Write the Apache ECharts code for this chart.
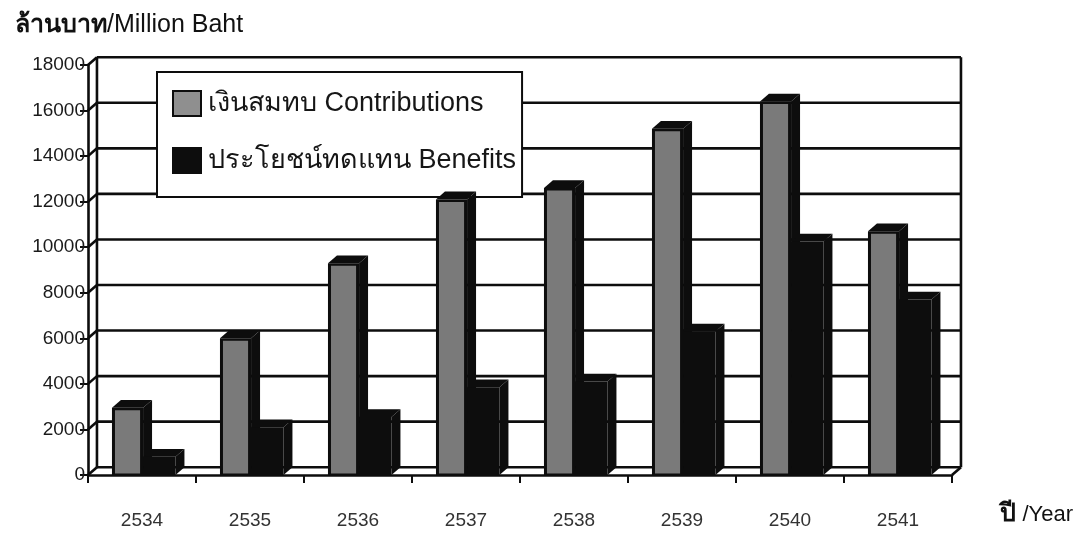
<!DOCTYPE html>
<html>
<head>
<meta charset="utf-8">
<script src="https://cdn.jsdelivr.net/npm/echarts@6/dist/echarts.min.js"></script>
<style>
html,body{margin:0;padding:0;background:#fff;}
#chart{width:1079px;height:535px;}
</style>
</head>
<body>
<div id="chart"></div>
<script>
// ---- data ----
var categories = ['2534', '2535', '2536', '2537', '2538', '2539', '2540', '2541'];
var contributions = [2950, 6000, 9300, 12100, 12600, 15200, 16400, 10700];
var benefits = [800, 2100, 2550, 3850, 4100, 6300, 10250, 7700];
var yTicks = [0, 2000, 4000, 6000, 8000, 10000, 12000, 14000, 16000, 18000];
var seriesNames = ['เงินสมทบ Contributions', 'ประโยชน์ทดแทน Benefits'];
var yTitle = 'ล้านบาท';
var yTitleEn = '/Million Baht';
var xTitle = 'ปี';
var xTitleEn = ' /Year';

var FONT = "'Liberation Sans', Arial, 'Noto Sans', 'DejaVu Sans', sans-serif";
var GRAY = '#7a7a7a';
var INK = '#0d0d0d';

var chart = echarts.init(document.getElementById('chart'), null, {renderer: 'canvas'});

function depth(band) { return {dx: band * 0.083, dy: -band * 0.072}; }

function wallItem(params, api) {
  var cs = params.coordSys;
  var v = api.value(1);
  var p = api.coord([0, v]);
  var band = api.size([1, 0])[0];
  var d = depth(band);
  var left = cs.x, right = cs.x + cs.width;
  var y = p[1];
  var st = {stroke: INK, lineWidth: 2.6};
  var ch = [
    {type: 'line', shape: {x1: left + d.dx, y1: y + d.dy, x2: right + d.dx, y2: y + d.dy}, style: st},
    {type: 'line', shape: {x1: left, y1: y, x2: left + d.dx, y2: y + d.dy}, style: st}
  ];
  if (params.dataIndex === 0) {
    var top = cs.y, bottom = cs.y + cs.height;
    ch.push({type: 'line', shape: {x1: left + d.dx, y1: top + d.dy, x2: left + d.dx, y2: bottom + d.dy}, style: st});
    ch.push({type: 'line', shape: {x1: right + d.dx, y1: top + d.dy, x2: right + d.dx, y2: bottom + d.dy}, style: st});
    ch.push({type: 'line', shape: {x1: right, y1: bottom, x2: right + d.dx, y2: bottom + d.dy}, style: st});
  }
  return {type: 'group', children: ch};
}

function barMaker(f0, f1, gray) {
  return function (params, api) {
    var cat = api.value(0), v = api.value(1);
    var base = api.coord([cat, 0]);
    var top = api.coord([cat, v]);
    var band = api.size([1, 0])[0];
    var d = depth(band);
    var start = base[0] - band / 2;
    var x0 = start + band * f0, x1 = start + band * f1;
    var yt = top[1], yb = base[1];
    var fill = {fill: INK};
    var ch = [
      {type: 'polygon', shape: {points: [[x1, yt], [x1 + d.dx, yt + d.dy], [x1 + d.dx, yb + d.dy], [x1, yb]]}, style: fill},
      {type: 'polygon', shape: {points: [[x0, yt], [x0 + d.dx, yt + d.dy], [x1 + d.dx, yt + d.dy], [x1, yt]]}, style: fill},
      {type: 'rect', shape: {x: x0, y: yt, width: x1 - x0, height: yb - yt}, style: fill}
    ];
    if (gray) {
      ch.push({type: 'rect', shape: {x: x0 + 3, y: yt + 2.5, width: x1 - x0 - 6, height: yb - yt - 4}, style: {fill: GRAY}});
    }
    return {type: 'group', children: ch};
  };
}

var option = {
  backgroundColor: '#fff',
  animation: false,
  textStyle: {fontFamily: FONT},
  grid: {left: 88, right: 127, top: 65, bottom: 60, containLabel: false},
  xAxis: {
    type: 'category',
    data: categories,
    boundaryGap: true,
    axisLine: {lineStyle: {color: INK, width: 2.6}},
    axisTick: {show: true, length: 8, lineStyle: {color: INK, width: 2}},
    axisLabel: {color: '#333', fontSize: 19, margin: 36, fontFamily: FONT},
    splitLine: {show: false}
  },
  yAxis: {
    type: 'value',
    min: 0, max: 18000, interval: 2000,
    axisLine: {show: true, lineStyle: {color: INK, width: 2.6}},
    axisTick: {show: true, length: 8, lineStyle: {color: INK, width: 2}},
    axisLabel: {color: '#1a1a1a', fontSize: 19, margin: 3, fontFamily: FONT,
      formatter: function (v) { return String(v); }},
    splitLine: {show: false}
  },
  legend: {
    show: true,
    orient: 'vertical',
    left: 157, top: 72,
    z: 3,
    backgroundColor: '#fff',
    borderColor: INK, borderWidth: 2,
    padding: [18, 6, 23, 15],
    itemWidth: 28, itemHeight: 25, itemGap: 30,
    textStyle: {fontSize: 27, color: '#161616', fontFamily: FONT, padding: [0, 0, 0, 2]},
    data: [
      {name: seriesNames[0], icon: 'rect', itemStyle: {color: '#8f8f8f', borderColor: INK, borderWidth: 2}},
      {name: seriesNames[1], icon: 'rect', itemStyle: {color: INK, borderColor: INK, borderWidth: 2}}
    ]
  },
  graphic: [
    {type: 'text', left: 15, top: 13, z: 10, style: {
      text: '{b|' + yTitle + '}{r|' + yTitleEn + '}',
      rich: {b: {fontSize: 25, fontWeight: 'bold', fill: '#111', fontFamily: FONT},
             r: {fontSize: 25, fill: '#111', fontFamily: FONT}}
    }},
    {type: 'text', right: 6, top: 502, z: 10, style: {
      text: '{b|' + xTitle + '}{r|' + xTitleEn + '}',
      rich: {b: {fontSize: 25, fontWeight: 'bold', fill: '#111', fontFamily: FONT},
             r: {fontSize: 22, fill: '#111', fontFamily: FONT}}
    }}
  ],
  series: [
    {
      type: 'custom', name: 'wall', z: 1, silent: true,
      renderItem: wallItem,
      data: yTicks.map(function (t) { return [0, t]; }),
      encode: {x: 0, y: 1}
    },
    {
      type: 'custom', name: seriesNames[0], z: 5,
      itemStyle: {color: GRAY},
      renderItem: barMaker(0.222, 0.51, true),
      data: contributions.map(function (v, i) { return [i, v]; }),
      encode: {x: 0, y: 1}
    },
    {
      type: 'custom', name: seriesNames[1], z: 6,
      itemStyle: {color: INK},
      renderItem: barMaker(0.51, 0.81, false),
      data: benefits.map(function (v, i) { return [i, v]; }),
      encode: {x: 0, y: 1}
    }
  ]
};
chart.setOption(option);
</script>
</body>
</html>
